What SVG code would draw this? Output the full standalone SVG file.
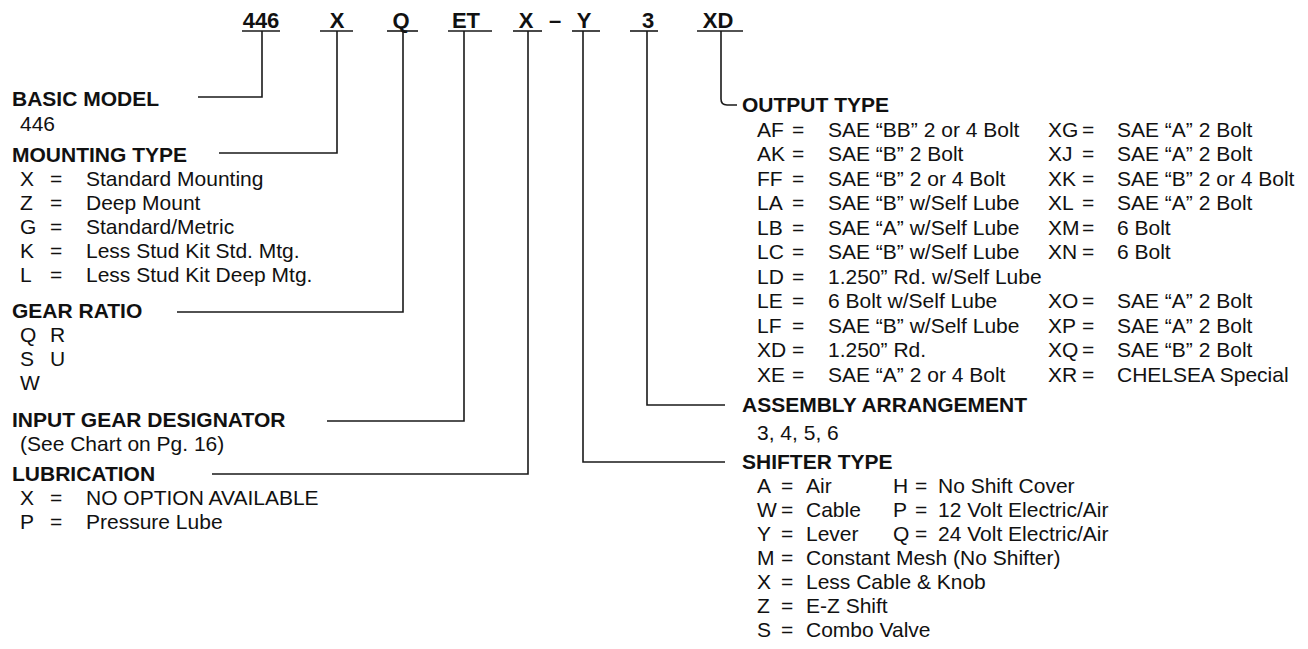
<svg xmlns="http://www.w3.org/2000/svg" width="1308" height="649" viewBox="0 0 1308 649">
<style>
text{font-family:"Liberation Sans",Arial,Helvetica,sans-serif;fill:#111}
.h{font-size:21px;font-weight:700}
.r{font-size:21px}
.c{font-size:22px;font-weight:700;text-anchor:middle}
.ln{fill:none;stroke:#1a1a1a;stroke-width:1.6}
</style>
<rect width="1308" height="649" fill="#fff"/>
<g id="code">
<text class="c" x="261" y="28">446</text>
<text class="c" x="337" y="28">X</text>
<text class="c" x="401" y="28">Q</text>
<text class="c" x="466" y="28">ET</text>
<text class="c" x="526" y="28">X</text>
<text class="c" x="555" y="28">–</text>
<text class="c" x="584" y="28">Y</text>
<text class="c" x="648" y="28">3</text>
<text class="c" x="718" y="28">XD</text>
<g class="ln">
<line x1="242" y1="31" x2="280" y2="31"/>
<line x1="320" y1="31" x2="353" y2="31"/>
<line x1="387" y1="31" x2="418" y2="31"/>
<line x1="448" y1="31" x2="492" y2="31"/>
<line x1="513" y1="31" x2="542" y2="31"/>
<line x1="572" y1="31" x2="600" y2="31"/>
<line x1="630" y1="31" x2="658" y2="31"/>
<line x1="697" y1="31" x2="743" y2="31"/>
</g>
</g>
<g id="connectors" class="ln">
<path d="M262,31 V97 H198"/>
<path d="M337,31 V153 H219"/>
<path d="M403,31 V312 H177"/>
<path d="M464,31 V421 H327"/>
<path d="M528,31 V474 H212"/>
<path d="M583,31 V462 H725"/>
<path d="M647,31 V405 H725"/>
<path d="M721,31 V99 Q721,105 727,105 H737"/>
</g>
<g id="basic-model">
<text class="h" x="12" y="106">BASIC MODEL</text>
<text class="r" x="20" y="131">446</text>
</g>
<g id="mounting-type">
<text class="h" x="12" y="162">MOUNTING TYPE</text>
<text class="r" x="20" y="186">X</text><text class="r" x="50" y="186">=</text><text class="r" x="86" y="186">Standard Mounting</text>
<text class="r" x="20" y="210">Z</text><text class="r" x="50" y="210">=</text><text class="r" x="86" y="210">Deep Mount</text>
<text class="r" x="20" y="234">G</text><text class="r" x="50" y="234">=</text><text class="r" x="86" y="234">Standard/Metric</text>
<text class="r" x="20" y="258">K</text><text class="r" x="50" y="258">=</text><text class="r" x="86" y="258">Less Stud Kit Std. Mtg.</text>
<text class="r" x="20" y="282">L</text><text class="r" x="50" y="282">=</text><text class="r" x="86" y="282">Less Stud Kit Deep Mtg.</text>
</g>
<g id="gear-ratio">
<text class="h" x="12" y="318">GEAR RATIO</text>
<text class="r" x="20" y="342">Q</text><text class="r" x="50" y="342">R</text>
<text class="r" x="20" y="366">S</text><text class="r" x="50" y="366">U</text>
<text class="r" x="20" y="390">W</text>
</g>
<g id="input-gear">
<text class="h" x="12" y="427">INPUT GEAR DESIGNATOR</text>
<text class="r" x="20" y="451">(See Chart on Pg. 16)</text>
</g>
<g id="lubrication">
<text class="h" x="12" y="481">LUBRICATION</text>
<text class="r" x="20" y="505">X</text><text class="r" x="50" y="505">=</text><text class="r" x="86" y="505">NO OPTION AVAILABLE</text>
<text class="r" x="20" y="529">P</text><text class="r" x="50" y="529">=</text><text class="r" x="86" y="529">Pressure Lube</text>
</g>
<g id="output-type">
<text class="h" x="742" y="112">OUTPUT TYPE</text>
<g>
<text class="r" x="757" y="137">AF</text><text class="r" x="792" y="137">=</text><text class="r" x="828" y="137">SAE “BB” 2 or 4 Bolt</text>
<text class="r" x="757" y="161">AK</text><text class="r" x="792" y="161">=</text><text class="r" x="828" y="161">SAE “B” 2 Bolt</text>
<text class="r" x="757" y="186">FF</text><text class="r" x="792" y="186">=</text><text class="r" x="828" y="186">SAE “B” 2 or 4 Bolt</text>
<text class="r" x="757" y="210">LA</text><text class="r" x="792" y="210">=</text><text class="r" x="828" y="210">SAE “B” w/Self Lube</text>
<text class="r" x="757" y="235">LB</text><text class="r" x="792" y="235">=</text><text class="r" x="828" y="235">SAE “A” w/Self Lube</text>
<text class="r" x="757" y="259">LC</text><text class="r" x="792" y="259">=</text><text class="r" x="828" y="259">SAE “B” w/Self Lube</text>
<text class="r" x="757" y="284">LD</text><text class="r" x="792" y="284">=</text><text class="r" x="828" y="284">1.250” Rd. w/Self Lube</text>
<text class="r" x="757" y="308">LE</text><text class="r" x="792" y="308">=</text><text class="r" x="828" y="308">6 Bolt w/Self Lube</text>
<text class="r" x="757" y="333">LF</text><text class="r" x="792" y="333">=</text><text class="r" x="828" y="333">SAE “B” w/Self Lube</text>
<text class="r" x="757" y="357">XD</text><text class="r" x="792" y="357">=</text><text class="r" x="828" y="357">1.250” Rd.</text>
<text class="r" x="757" y="382">XE</text><text class="r" x="792" y="382">=</text><text class="r" x="828" y="382">SAE “A” 2 or 4 Bolt</text>
</g>
<g>
<text class="r" x="1048" y="137">XG</text><text class="r" x="1082" y="137">=</text><text class="r" x="1117" y="137">SAE “A” 2 Bolt</text>
<text class="r" x="1048" y="161">XJ</text><text class="r" x="1082" y="161">=</text><text class="r" x="1117" y="161">SAE “A” 2 Bolt</text>
<text class="r" x="1048" y="186">XK</text><text class="r" x="1082" y="186">=</text><text class="r" x="1117" y="186">SAE “B” 2 or 4 Bolt</text>
<text class="r" x="1048" y="210">XL</text><text class="r" x="1082" y="210">=</text><text class="r" x="1117" y="210">SAE “A” 2 Bolt</text>
<text class="r" x="1048" y="235">XM</text><text class="r" x="1082" y="235">=</text><text class="r" x="1117" y="235">6 Bolt</text>
<text class="r" x="1048" y="259">XN</text><text class="r" x="1082" y="259">=</text><text class="r" x="1117" y="259">6 Bolt</text>
<text class="r" x="1048" y="308">XO</text><text class="r" x="1082" y="308">=</text><text class="r" x="1117" y="308">SAE “A” 2 Bolt</text>
<text class="r" x="1048" y="333">XP</text><text class="r" x="1082" y="333">=</text><text class="r" x="1117" y="333">SAE “A” 2 Bolt</text>
<text class="r" x="1048" y="357">XQ</text><text class="r" x="1082" y="357">=</text><text class="r" x="1117" y="357">SAE “B” 2 Bolt</text>
<text class="r" x="1048" y="382">XR</text><text class="r" x="1082" y="382">=</text><text class="r" x="1117" y="382">CHELSEA Special</text>
</g>
</g>
<g id="assembly-arrangement">
<text class="h" x="742" y="412">ASSEMBLY ARRANGEMENT</text>
<text class="r" x="757" y="440">3, 4, 5, 6</text>
</g>
<g id="shifter-type">
<text class="h" x="742" y="469">SHIFTER TYPE</text>
<text class="r" x="757" y="493">A</text><text class="r" x="781" y="493">=</text><text class="r" x="806" y="493">Air</text>
<text class="r" x="893" y="493">H</text><text class="r" x="915" y="493">=</text><text class="r" x="938" y="493">No Shift Cover</text>
<text class="r" x="757" y="517">W</text><text class="r" x="781" y="517">=</text><text class="r" x="806" y="517">Cable</text>
<text class="r" x="893" y="517">P</text><text class="r" x="915" y="517">=</text><text class="r" x="938" y="517">12 Volt Electric/Air</text>
<text class="r" x="757" y="541">Y</text><text class="r" x="781" y="541">=</text><text class="r" x="806" y="541">Lever</text>
<text class="r" x="893" y="541">Q</text><text class="r" x="915" y="541">=</text><text class="r" x="938" y="541">24 Volt Electric/Air</text>
<text class="r" x="757" y="565">M</text><text class="r" x="781" y="565">=</text><text class="r" x="806" y="565">Constant Mesh (No Shifter)</text>
<text class="r" x="757" y="589">X</text><text class="r" x="781" y="589">=</text><text class="r" x="806" y="589">Less Cable &amp; Knob</text>
<text class="r" x="757" y="613">Z</text><text class="r" x="781" y="613">=</text><text class="r" x="806" y="613">E-Z Shift</text>
<text class="r" x="757" y="637">S</text><text class="r" x="781" y="637">=</text><text class="r" x="806" y="637">Combo Valve</text>
</g>
</svg>
